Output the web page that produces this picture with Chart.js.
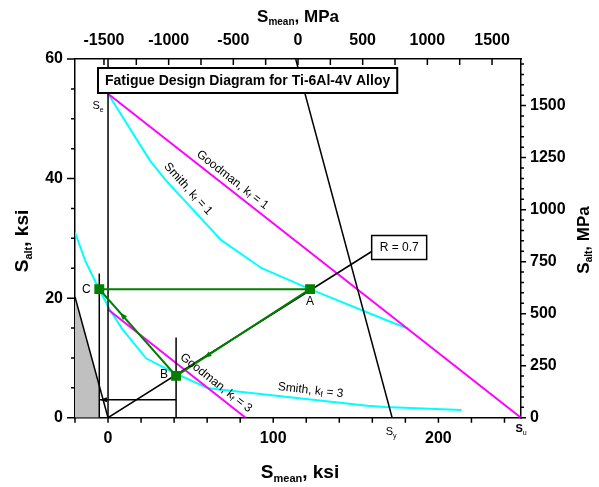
<!DOCTYPE html>
<html><head><meta charset="utf-8">
<script src="https://cdn.jsdelivr.net/npm/chart.js@4/dist/chart.umd.min.js"></script>
<style>html,body{margin:0;padding:0;background:#fff}</style>
</head><body>
<canvas id="c" width="599" height="487"></canvas>
<script>
// ---- tick values ----
const xTickMarksKsi = [-20,0,20,40,60,80,100,120,140,160,180,200,220,240];
const xLabelsKsi = [0,100,200];
const yTickMarksKsi = [0,5,10,15,20,25,30,35,40,45,50,55,60];
const yLabelsKsi = [0,20,40,60];
const xTickMarksMPa = [-1500,-1250,-1000,-750,-500,-250,0,250,500,750,1000,1250,1500];
const xLabelsMPa = [-1500,-1000,-500,0,500,1000,1500];
const yTickMarksMPa = [0,50,100,150,200,250,300,350,400,450,500,550,600,650,700,750,800,850,900,950,1000,1050,1100,1150,1200,1250,1300,1350,1400,1450,1500,1550,1600,1650,1700];
const yLabelsMPa = [0,250,500,750,1000,1250,1500];

// ---- series (S_mean ksi, S_alt ksi) ----
const goodmanK1X = [0, 250];
const goodmanK1Y = [54.2, 0];
const goodmanK3X = [0, 83.3];
const goodmanK3Y = [18.1, 0];
const smithK1X = [0, 25.4, 35, 68.5, 93, 122.3, 168.6, 181.5];
const smithK1Y = [54.2, 43, 39.7, 29.7, 25, 21.5, 16.3, 14.9];
const smithK3X = [-20, -13.9, -5.3, 1.2, 8.3, 23, 40.6, 60.7, 95, 157, 167.7, 214];
const smithK3Y = [31, 26.3, 21.4, 18.0, 14.95, 9.94, 7.43, 4.92, 3.9, 2.0, 1.8, 1.3];
const pointNames = ['A','B','C'];
const pointX = [122.3, 41.2, -5.3];
const pointY = [21.5, 7.0, 21.5];
const yieldX = [113.6, 172];
const yieldY = [60, 0];
const rLineX = [0, 159.6];
const rLineY = [0, 27.8];
const zeroLineX = [0, 0];
const zeroLineY = [0, 60];
const cVertX = [-5.3, -5.3];
const cVertY = [0, 24.1];
const bVertX = [41.2, 41.2];
const bVertY = [0, 13.4];
const hLineX = [-5.3, 41.2];
const hLineY = [3, 3];
const compLineX = [-20, 0];
const compLineY = [20.2, 0];
const grayX = [-20, -5.3];
const grayY = [20.2, 5.35];

const pts = (xs, ys) => xs.map((x, i) => ({x, y: ys[i]}));
const FONT = 'Liberation Sans, Arial, sans-serif';
Chart.defaults.font.family = FONT;
Chart.defaults.color = '#000';

function lineDS(xs, ys, color, w, extra) {
  return Object.assign({data: pts(xs, ys), borderColor: color, borderWidth: w, pointRadius: 0,
    fill: false, tension: 0, showLine: true}, extra || {});
}

const path = [0, 1, 2, 0];
const datasets = [
  {data: pts(pointX, pointY), showLine: false, pointStyle: 'rect', pointRadius: 7,
   backgroundColor: '#008000', borderColor: '#008000', borderWidth: 0},
  lineDS(path.map(i => pointX[i]), path.map(i => pointY[i]), '#008000', 2),
  lineDS(rLineX, rLineY, '#000', 1.5),
  lineDS(zeroLineX, zeroLineY, '#000', 1.5),
  lineDS(cVertX, cVertY, '#000', 1.5),
  lineDS(bVertX, bVertY, '#000', 1.5),
  lineDS(hLineX, hLineY, '#000', 1.5),
  lineDS(compLineX, compLineY, '#000', 1.5),
  lineDS(yieldX, yieldY, '#000', 1.5),
  lineDS(goodmanK1X, goodmanK1Y, '#ff00ff', 2),
  lineDS(goodmanK3X, goodmanK3Y, '#ff00ff', 2),
  lineDS(smithK1X, smithK1Y, '#00ffff', 2),
  lineDS(smithK3X, smithK3Y, '#00ffff', 2),
  lineDS(grayX, grayY, 'rgba(0,0,0,0)', 0, {fill: 'origin', backgroundColor: '#c0c0c0'})
];

function rich(ctx, parts, x, y, angle, align) {
  ctx.save();
  ctx.translate(x, y);
  ctx.rotate(angle || 0);
  ctx.textBaseline = 'middle';
  ctx.textAlign = 'left';
  let total = 0;
  parts.forEach(p => {
    ctx.font = (p.b ? 'bold ' : '') + p.s + 'px ' + FONT;
    p.w = ctx.measureText(p.t).width;
    total += p.w;
  });
  let cx = align === 'left' ? 0 : align === 'right' ? -total : -total / 2;
  parts.forEach(p => {
    ctx.font = (p.b ? 'bold ' : '') + p.s + 'px ' + FONT;
    ctx.fillStyle = '#000';
    ctx.fillText(p.t, cx, p.dy || 0);
    cx += p.w;
  });
  ctx.restore();
}

function tri(ctx, x, y, ang, size, color) {
  ctx.save();
  ctx.translate(x, y);
  ctx.rotate(ang);
  ctx.beginPath();
  ctx.moveTo(size, 0);
  ctx.lineTo(-size, -size * 0.7);
  ctx.lineTo(-size, size * 0.7);
  ctx.closePath();
  ctx.fillStyle = color;
  ctx.fill();
  ctx.restore();
}

const deco = {
  id: 'deco',
  afterDraw(chart) {
    const ctx = chart.ctx;
    const xs = chart.scales.x, ys = chart.scales.y, x2 = chart.scales.x2, y2 = chart.scales.y2;
    const a = chart.chartArea;
    const X = v => xs.getPixelForValue(v), Y = v => ys.getPixelForValue(v);
    ctx.save();
    ctx.strokeStyle = '#000';
    ctx.lineWidth = 1.5;
    // tick marks
    ctx.beginPath();
    xTickMarksKsi.forEach(v => { const p = X(v); ctx.moveTo(p, a.bottom); ctx.lineTo(p, a.bottom + 5); });
    yTickMarksKsi.forEach(v => { const p = Y(v); const L = yLabelsKsi.includes(v) ? 8 : 4; ctx.moveTo(a.left - L, p); ctx.lineTo(a.left, p); });
    xTickMarksMPa.forEach(v => { const p = x2.getPixelForValue(v); ctx.moveTo(p, a.top); ctx.lineTo(p, a.top + 6); });
    yTickMarksMPa.forEach(v => { const p = y2.getPixelForValue(v); const L = yLabelsMPa.includes(v) ? 5 : 3; ctx.moveTo(a.right - 1, p); ctx.lineTo(a.right + L, p); });
    ctx.stroke();

    // arrows on load path
    const ptsPx = pointX.map((v, i) => [X(v), Y(pointY[i])]);
    const seg = (i, j, f) => {
      const [x1, y1] = ptsPx[i], [x2p, y2p] = ptsPx[j];
      tri(ctx, x1 + (x2p - x1) * f, y1 + (y2p - y1) * f, Math.atan2(y2p - y1, x2p - x1), 4, '#008000');
    };
    seg(0, 1, 0.77);
    seg(1, 2, 0.70);
    tri(ctx, X(-2.8), Y(3), Math.PI, 3.5, '#000');

    // point labels
    rich(ctx, [{t: 'A', s: 12}], ptsPx[0][0], ptsPx[0][1] + 13, 0, 'center');
    rich(ctx, [{t: 'B', s: 12}], ptsPx[1][0] - 12, ptsPx[1][1] - 1, 0, 'center');
    rich(ctx, [{t: 'C', s: 12}], ptsPx[2][0] - 13, ptsPx[2][1] + 1, 0, 'center');

    // curve labels
    const lbl = (txt, k, x1, y1, x2v, y2v, cxv, off) => {
      const px1 = X(x1), py1 = Y(y1), px2 = X(x2v), py2 = Y(y2v);
      const ang = Math.atan2(py2 - py1, px2 - px1);
      const t = (cxv - x1) / (x2v - x1);
      const cx = px1 + (px2 - px1) * t, cy = py1 + (py2 - py1) * t;
      const nx = Math.sin(ang), ny = -Math.cos(ang);
      rich(ctx, [{t: txt + ', k', s: 12}, {t: 'f', s: 8, dy: 3}, {t: ' = ' + k, s: 12}],
        cx + nx * off, cy + ny * off, ang, 'center');
    };
    lbl('Goodman', 1, 0, 54.2, 250, 0, 72, 9);
    lbl('Smith', 1, 30, 41.4, 68.5, 29.7, 44, 10);
    lbl('Goodman', 3, 0, 18.1, 83.3, 0, 62, 9);
    lbl('Smith', 3, 95, 3.9, 157, 2.0, 122, 9);

    // S_e, S_y, S_u labels
    rich(ctx, [{t: 'S', s: 11}, {t: 'e', s: 7, dy: 4}], X(0) - 10, Y(54.2) + 12, 0, 'center');
    rich(ctx, [{t: 'S', s: 11}, {t: 'y', s: 7, dy: 4}], X(172) - 1, a.bottom + 14, 0, 'center');
    rich(ctx, [{t: 'S', s: 11, b: true}, {t: 'u', s: 7, dy: 4}], a.right, a.bottom + 11, 0, 'center');

    // R box
    const rx = X(159.6), ry = Y(27.8);
    ctx.fillStyle = '#fff';
    ctx.fillRect(rx, ry - 16, 55, 24);
    ctx.lineWidth = 1.5;
    ctx.strokeRect(rx, ry - 16, 55, 24);
    rich(ctx, [{t: 'R = 0.7', s: 12}], rx + 27.5, ry - 4, 0, 'center');

    // title box
    const title = 'Fatigue Design Diagram for Ti-6Al-4V Alloy';
    ctx.font = 'bold 14px ' + FONT;
    const tw = ctx.measureText(title).width;
    ctx.fillStyle = '#fff';
    ctx.fillRect(98, 68, tw + 14, 25);
    ctx.lineWidth = 2;
    ctx.strokeRect(98, 68, tw + 14, 25);
    rich(ctx, [{t: title, s: 14, b: true}], 105, 81, 0, 'left');

    // axis titles
    rich(ctx, [{t: 'S', s: 19, b: true}, {t: 'alt', s: 11, b: true, dy: 6}, {t: ', ksi', s: 19, b: true}], 23, 241, -Math.PI / 2, 'center');
    rich(ctx, [{t: 'S', s: 17, b: true}, {t: 'alt', s: 10, b: true, dy: 5}, {t: ', MPa', s: 17, b: true}], 584, 240, -Math.PI / 2, 'center');
    rich(ctx, [{t: 'S', s: 19, b: true}, {t: 'mean', s: 11, b: true, dy: 6}, {t: ', ksi', s: 19, b: true}], 300, 473, 0, 'center');
    rich(ctx, [{t: 'S', s: 17, b: true}, {t: 'mean', s: 10, b: true, dy: 5}, {t: ', MPa', s: 17, b: true}], 298, 17, 0, 'center');
    ctx.restore();
  }
};

const tickFont = {family: FONT, size: 16, weight: 'bold'};
function axis(pos, min, max, labels, pad, size) {
  return {
    type: 'linear', position: pos, min, max,
    afterBuildTicks: s => { s.ticks = labels.map(v => ({value: v})); },
    afterFit: s => { if (pos === 'left' || pos === 'right') s.width = size; else s.height = size; },
    ticks: {font: tickFont, color: '#000', padding: pad, autoSkip: false, maxRotation: 0,
            callback: v => String(v)},
    grid: {display: false, drawTicks: false},
    border: {display: true, color: '#000', width: 1.5}
  };
}

new Chart(document.getElementById('c'), {
  type: 'line',
  data: {datasets},
  options: {
    responsive: false, animation: false, devicePixelRatio: 1,
    layout: {padding: 0},
    plugins: {legend: {display: false}, tooltip: {enabled: false}},
    scales: {
      x: axis('bottom', -20, 250, xLabelsKsi, 11.5, 69.3),
      y: axis('left', 0, 60, yLabelsKsi, 12, 75),
      x2: axis('top', -1724, 1724, xLabelsMPa, 8.6, 59),
      y2: axis('right', 0, 1724, yLabelsMPa, 9, 78)
    }
  },
  plugins: [deco]
});
</script>
</body></html>
